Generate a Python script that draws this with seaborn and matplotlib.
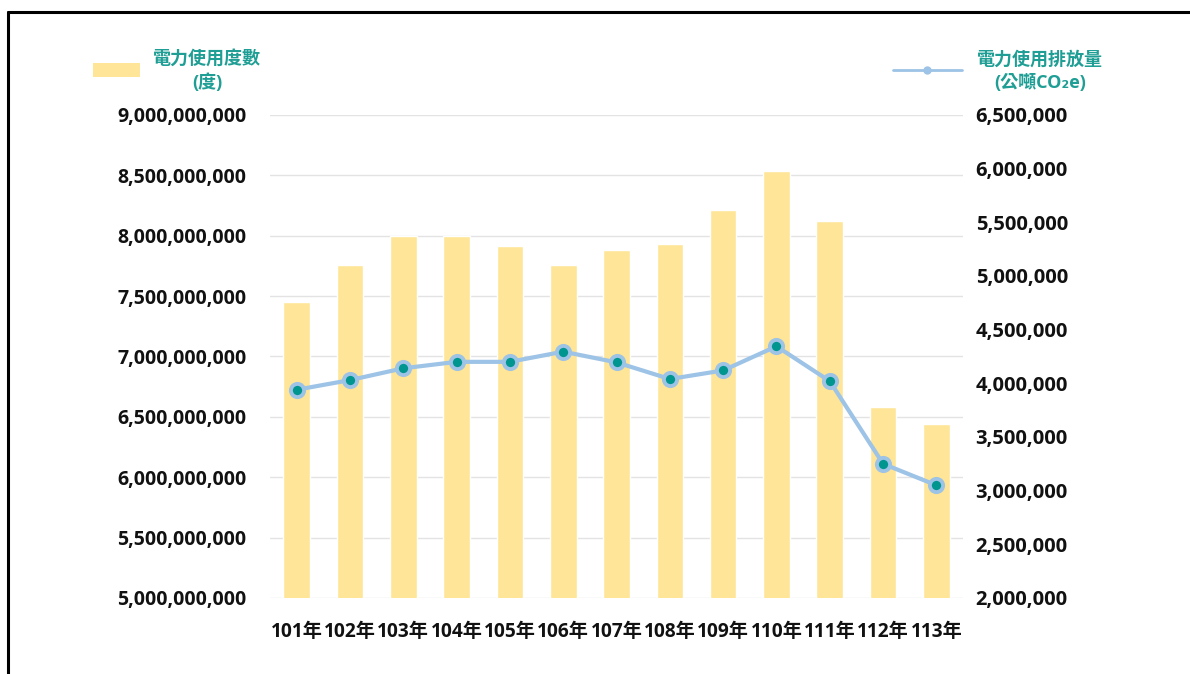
import matplotlib

matplotlib.use("Agg")
import matplotlib.pyplot as plt
import numpy as np
import pandas as pd
import seaborn as sns
from matplotlib.lines import Line2D
from matplotlib.patches import Rectangle
from matplotlib.ticker import FuncFormatter, MultipleLocator

# --- data ---
years = ["101年", "102年", "103年", "104年", "105年", "106年", "107年",
         "108年", "109年", "110年", "111年", "112年", "113年"]
power_kwh = [7.45e9, 7.76e9, 8.00e9, 8.00e9, 7.915e9, 7.755e9, 7.88e9,
             7.935e9, 8.21e9, 8.54e9, 8.12e9, 6.58e9, 6.44e9]
emission_t = [3.94e6, 4.03e6, 4.14e6, 4.20e6, 4.20e6, 4.295e6, 4.195e6,
              4.04e6, 4.12e6, 4.345e6, 4.02e6, 3.25e6, 3.05e6]

BAR_COLOR = "#FEE597"
LINE_COLOR = "#9DC3E6"
DOT_COLOR = "#00968F"
TITLE_COLOR = "#1E9E94"

sns.set_theme(style="white")
plt.rcParams["font.family"] = ["Open Sans", "Noto Sans CJK TC", "DejaVu Sans"]

df = pd.DataFrame({"year": years, "power": power_kwh, "emission": emission_t})
df["pos"] = np.arange(len(df))

fig = plt.figure(figsize=(11.9, 6.74), dpi=100)
ax = fig.add_axes([0.2269, 0.1128, 0.5824, 0.7166])
ax2 = ax.twinx()

sns.barplot(data=df, x="year", y="power", color=BAR_COLOR, width=0.5,
            saturation=1, ax=ax)
sns.lineplot(data=df, x="pos", y="emission", color=LINE_COLOR, linewidth=3,
             marker="o", markersize=9.5, markerfacecolor=DOT_COLOR,
             markeredgecolor=LINE_COLOR, markeredgewidth=2.8, ax=ax2)

ax.set_xlim(-0.5, len(years) - 0.5)
ax.set_ylim(5e9, 9e9)
ax.yaxis.set_major_locator(MultipleLocator(5e8))
ax2.set_ylim(2e6, 6.5e6)
ax2.yaxis.set_major_locator(MultipleLocator(5e5))

fmt = FuncFormatter(lambda v, _: f"{v:,.0f}")
ax.yaxis.set_major_formatter(fmt)
ax2.yaxis.set_major_formatter(fmt)

ax.grid(axis="y", color="#E3E3E3", linewidth=1.0)
ax.set_axisbelow(True)
ax2.grid(False)
for a in (ax, ax2):
    for s in a.spines.values():
        s.set_visible(False)
    a.set_xlabel("")
    a.set_ylabel("")

ax.tick_params(axis="y", length=0, pad=17, labelsize=14)
ax2.tick_params(axis="y", length=0, pad=9, labelsize=14.5)
ax.tick_params(axis="x", length=0, pad=17, labelsize=13.8)
for lab in ax.get_xticklabels() + ax.get_yticklabels() + ax2.get_yticklabels():
    lab.set_fontweight("bold")
    lab.set_color("#111111")

# legend-like headers
W, H = 1190, 674
fig.add_artist(Rectangle((93 / W, 1 - 77 / H), 47 / W, 14 / H,
                         transform=fig.transFigure, color=BAR_COLOR, lw=0))
fig.text(207 / W, 1 - 60 / H, "電力使用度數", ha="center", va="center",
         fontsize=13, fontweight="bold", color=TITLE_COLOR)
fig.text(207 / W, 1 - 83 / H, "(度)", ha="center", va="center",
         fontsize=13, fontweight="bold", color=TITLE_COLOR)

fig.add_artist(Line2D([893 / W, 962 / W], [1 - 70 / H, 1 - 70 / H],
                      transform=fig.transFigure, color=LINE_COLOR, lw=2))
fig.add_artist(Line2D([927 / W], [1 - 70 / H], transform=fig.transFigure,
                      marker="o", markersize=5, color=LINE_COLOR))
fig.text(1040 / W, 1 - 60 / H, "電力使用排放量", ha="center", va="center",
         fontsize=13, fontweight="bold", color=TITLE_COLOR)
fig.text(1040 / W, 1 - 83 / H, "(公噸CO₂e)", ha="center", va="center",
         fontsize=13, fontweight="bold", color=TITLE_COLOR)

# frame from the screenshot (top and left edges)
fig.add_artist(Line2D([8 / W, 1.0], [1 - 12 / H, 1 - 12 / H],
                      transform=fig.transFigure, color="black", lw=2.2))
fig.add_artist(Line2D([8 / W, 8 / W], [0, 1 - 12 / H],
                      transform=fig.transFigure, color="black", lw=2.2))

fig.savefig("out.png", dpi=100)
